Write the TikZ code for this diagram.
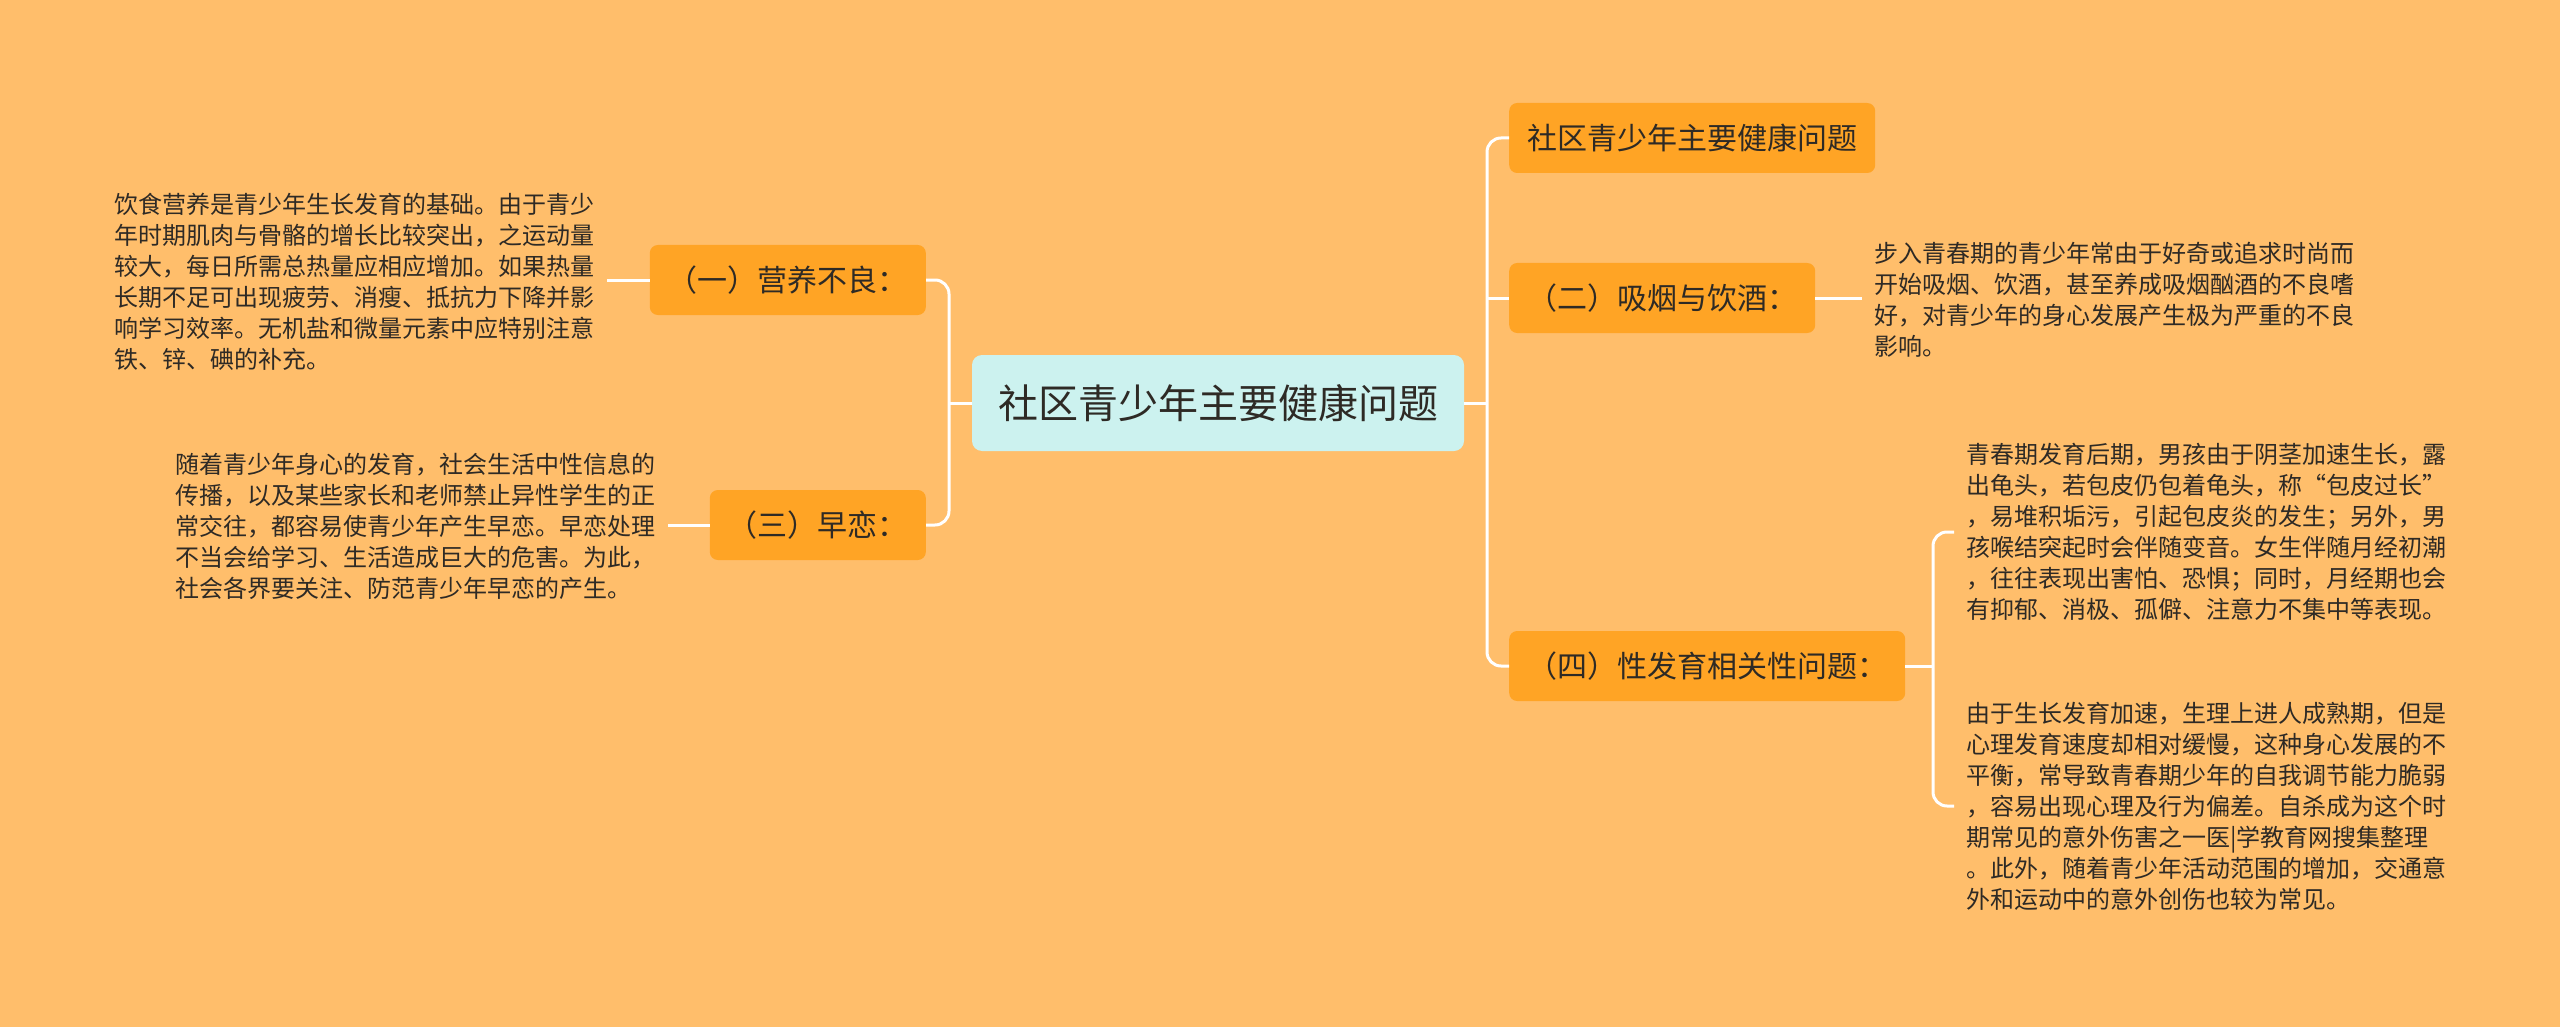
\documentclass[tikz,border=0pt]{standalone}
\usepackage{fontspec}
\setmainfont{Noto Sans CJK SC}
\definecolor{bgorange}{HTML}{FFBE6B}
\definecolor{boxorange}{HTML}{FFA425}
\definecolor{rootcyan}{HTML}{CCF2EF}
\definecolor{inkgray}{HTML}{2E2A25}
\begin{document}
\begin{tikzpicture}[x=1pt, y=-1pt,
  link/.style={draw=white, line width=3pt, rounded corners=14pt},
  topic/.style={fill=boxorange, rounded corners=8pt, minimum height=70pt, inner xsep=18pt, inner ysep=0pt, text=inkgray, font=\fontsize{30}{36}\selectfont},
  root/.style={fill=rootcyan, rounded corners=10pt, minimum height=96pt, inner xsep=26pt, text=inkgray, font=\fontsize{40}{48}\selectfont},
  leaf/.style={align=left, inner sep=0pt, text=inkgray, font=\fontsize{24}{31}\selectfont}]
  \fill[bgorange] (0,0) rectangle (2560,1027);
  \useasboundingbox (0,0) rectangle (2560,1027);

  \node[root] (center) at (1218,403) {社区青少年主要健康问题};

  % left side
  \node[topic, anchor=east] (one) at (926,280) {（一）营养不良：};
  \node[topic, anchor=east] (three) at (926,525) {（三）早恋：};
  \node[leaf, anchor=west] (leafone) at (114,282) {饮食营养是青少年生长发育的基础。由于青少\\年时期肌肉与骨骼的增长比较突出，之运动量\\较大，每日所需总热量应相应增加。如果热量\\长期不足可出现疲劳、消瘦、抵抗力下降并影\\响学习效率。无机盐和微量元素中应特别注意\\铁、锌、碘的补充。};
  \node[leaf, anchor=west] (leafthree) at (175,526) {随着青少年身心的发育，社会生活中性信息的\\传播，以及某些家长和老师禁止异性学生的正\\常交往，都容易使青少年产生早恋。早恋处理\\不当会给学习、生活造成巨大的危害。为此，\\社会各界要关注、防范青少年早恋的产生。};

  % right side
  \node[topic, anchor=west] (top) at (1509,138) {社区青少年主要健康问题};
  \node[topic, anchor=west] (two) at (1509,298) {（二）吸烟与饮酒：};
  \node[topic, anchor=west] (four) at (1509,666) {（四）性发育相关性问题：};
  \node[leaf, anchor=west] (leaftwo) at (1874,300) {步入青春期的青少年常由于好奇或追求时尚而\\开始吸烟、饮酒，甚至养成吸烟酗酒的不良嗜\\好，对青少年的身心发展产生极为严重的不良\\影响。};
  \node[leaf, anchor=west] (leaffoura) at (1966,532) {青春期发育后期，男孩由于阴茎加速生长，露\\出龟头，若包皮仍包着龟头，称“包皮过长”\\，易堆积垢污，引起包皮炎的发生；另外，男\\孩喉结突起时会伴随变音。女生伴随月经初潮\\，往往表现出害怕、恐惧；同时，月经期也会\\有抑郁、消极、孤僻、注意力不集中等表现。};
  \node[leaf, anchor=west] (leaffourb) at (1966,806) {由于生长发育加速，生理上进人成熟期，但是\\心理发育速度却相对缓慢，这种身心发展的不\\平衡，常导致青春期少年的自我调节能力脆弱\\，容易出现心理及行为偏差。自杀成为这个时\\期常见的意外伤害之一医|学教育网搜集整理\\。此外，随着青少年活动范围的增加，交通意\\外和运动中的意外创伤也较为常见。};

  \coordinate (ltrunk) at (949,403);
  \coordinate (rtrunk) at (1487,403);
  \coordinate (ftrunk) at (1933,666);

  \draw[link] (one.east) -| (ltrunk) |- (three.east);
  \draw[link] (center.west) -- (ltrunk);
  \draw[link] (top.west) -| (rtrunk) |- (four.west);
  \draw[link] (center.east) -- (rtrunk);
  \draw[link] (two.west) -- (two.west -| rtrunk);
  \draw[link] ([xshift=-12pt]leaffoura.west) -| (ftrunk) |- ([xshift=-12pt]leaffourb.west);
  \draw[link] (four.east) -- (ftrunk);
  \draw[link] (one.west) -- ([xshift=13pt]leafone.east |- one.west);
  \draw[link] (three.west) -- ([xshift=13pt]leafthree.east |- three.west);
  \draw[link] (two.east) -- ([xshift=-12pt]leaftwo.west |- two.east);
\end{tikzpicture}
\end{document}
